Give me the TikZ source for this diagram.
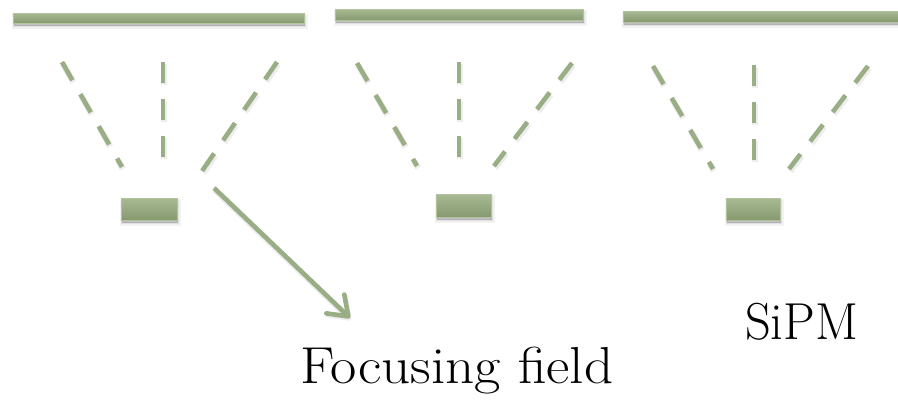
\documentclass[tikz,border=0pt]{standalone}
\usetikzlibrary{shadows,arrows.meta}
\definecolor{sage}{HTML}{9AAE86}
\definecolor{sagetop}{HTML}{A8BA93}
\definecolor{sagebot}{HTML}{86996F}
\definecolor{sageedge}{HTML}{B2C29F}
\tikzset{
  softshadow/.style={
    drop shadow={shadow xshift=1pt, shadow yshift=-3pt, fill=black, draw=black, line width=5pt, opacity=0.05},
    drop shadow={shadow xshift=1pt, shadow yshift=-3pt, fill=black, draw=black, line width=2.5pt, opacity=0.07},
    drop shadow={shadow xshift=1pt, shadow yshift=-3pt, fill=black, opacity=0.10}},
  plate/.style={softshadow, rectangle, inner sep=0pt, draw=sageedge, line width=0.6pt,
    top color=sagetop, bottom color=sagebot},
  sensor/.style={plate},
  ray/.style={draw=sage, line width=4.6pt, dash pattern=on 21pt off 16pt,
    preaction={draw=black, draw opacity=0.07, line width=6.5pt,
      dash pattern=on 21pt off 16pt,
      transform canvas={xshift=1pt, yshift=-2pt}}},
  pointer/.style={draw=sage, line width=4.6pt,
    -{Straight Barb[length=18pt, width=26pt, line width=4.6pt, round]},
    preaction={draw=black, draw opacity=0.07, line width=6.5pt,
      transform canvas={xshift=1pt, yshift=-2pt}}},
  caption/.style={anchor=base, inner sep=0pt, font=\fontsize{52}{62}\selectfont}
}
\begin{document}
\begin{tikzpicture}[x=1pt, y=-1pt]
\useasboundingbox (0,0) rectangle (898,402);

% focusing plates
\node[plate, minimum width=291pt, minimum height=10pt] (plateA) at (158.5,18) {};
\node[plate, minimum width=248pt, minimum height=11pt] (plateB) at (459,14.5) {};
\node[plate, minimum width=277pt, minimum height=11pt] (plateC) at (761.5,16.5) {};

% SiPM sensors
\node[sensor, minimum width=56pt, minimum height=22pt] (sipmA) at (149,209) {};
\node[sensor, minimum width=55pt, minimum height=23pt] (sipmB) at (463.5,205.5) {};
\node[sensor, minimum width=54pt, minimum height=22pt] (sipmC) at (753,209) {};

% field lines converging on each sensor
\coordinate (a1s) at (62,62);   \coordinate (a1e) at (122,167);
\coordinate (a2s) at (163,62);  \coordinate (a2e) at (163,157);
\coordinate (a3s) at (277,62);  \coordinate (a3e) at (202,171);
\coordinate (b1s) at (357,63);  \coordinate (b1e) at (417,166);
\coordinate (b2s) at (459,62);  \coordinate (b2e) at (459,157);
\coordinate (b3s) at (572,63);  \coordinate (b3e) at (494,166);
\coordinate (c1s) at (653,66);  \coordinate (c1e) at (713,169);
\coordinate (c2s) at (754,65);  \coordinate (c2e) at (754,160);
\coordinate (c3s) at (868,66);  \coordinate (c3e) at (789,169);
\foreach \g in {a,b,c}{
  \foreach \k in {1,2,3}{
    \draw[ray] (\g\k s) -- (\g\k e);
  }
}

% labels
\node[caption] (focus) at (457,383) {\scalebox{1.1}[1]{Focusing field}};
\node[caption] (sipm) at (801.5,339) {\scalebox{0.97}[1]{SiPM}};

% pointer to the focusing field label
\coordinate (ptrS) at (214,188);
\coordinate (ptrE) at (350,318);
\draw[pointer] (ptrS) -- (ptrE);
\end{tikzpicture}
\end{document}
